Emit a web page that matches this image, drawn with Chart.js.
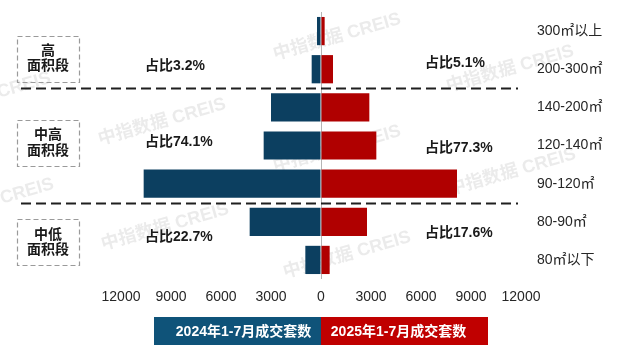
<!DOCTYPE html>
<html>
<head>
<meta charset="utf-8">
<script src="https://cdn.jsdelivr.net/npm/chart.js@4.4.1/dist/chart.umd.min.js"></script>
<style>
  html, body { margin: 0; padding: 0; background: #fff; }
</style>
</head>
<body>
<canvas id="areaChart" width="617" height="358"></canvas>
<script>
const categories = ['300㎡以上', '200-300㎡', '140-200㎡', '120-140㎡', '90-120㎡', '80-90㎡', '80㎡以下'];
const sales2024 = [240, 560, 3000, 3440, 10640, 4280, 940];
const sales2025 = [220, 720, 2900, 3320, 8160, 2760, 520];
const seriesNames = ['2024年1-7月成交套数', '2025年1-7月成交套数'];
const groupNames = [['高', '面积段'], ['中高', '面积段'], ['中低', '面积段']];
const share2024 = ['占比3.2%', '占比74.1%', '占比22.7%'];
const share2025 = ['占比5.1%', '占比77.3%', '占比17.6%'];
const xTicks = [-12000, -9000, -6000, -3000, 0, 3000, 6000, 9000, 12000];

const FONT = '"Liberation Sans", "Noto Sans CJK SC", sans-serif';
const BAR_BLUE = '#0C3F60';
const BAR_RED = '#B00000';
const LEGEND_BLUE = '#0F5379';
const LEGEND_RED = '#C00000';

// where the group decorations sit, in category units
const groupBreaks = [1.5, 4.5];
const boxAt = [0.72, 2.93, 5.54];
const leftShareAt = [0.91, 2.92, 5.4];
const rightShareAt = [0.84, 3.07, 5.3];
const watermarks = [[-75, 119], [275, 60], [448, 92], [100, 145], [275, 172], [450, 195], [-72, 225], [103, 250], [285, 278]];

const decorations = {
  id: 'decorations',
  beforeDatasetsDraw(chart) {
    const ctx = chart.ctx;
    ctx.save();
    ctx.font = 'bold 18px ' + FONT;
    ctx.fillStyle = 'rgba(190,190,190,0.3)';
    ctx.textBaseline = 'alphabetic';
    watermarks.forEach(([wx, wy]) => {
      ctx.save();
      ctx.translate(wx, wy);
      ctx.rotate(-0.28);
      ctx.fillText('中指数据 CREIS', 0, 0);
      ctx.restore();
    });
    ctx.restore();
  },
  afterDraw(chart) {
    const { ctx, chartArea, scales: { x, y } } = chart;
    ctx.save();

    // dashed separators between groups
    ctx.strokeStyle = '#1f1f1f';
    ctx.lineWidth = 2;
    ctx.setLineDash([10, 5]);
    groupBreaks.forEach(b => {
      const py = Math.round(y.getPixelForValue(b)) + 0.5;
      ctx.beginPath();
      ctx.moveTo(chartArea.left - 100, py);
      ctx.lineTo(chartArea.right - 3, py);
      ctx.stroke();
    });

    // group boxes
    ctx.setLineDash([5, 3]);
    ctx.strokeStyle = '#9a9a9a';
    ctx.lineWidth = 1.2;
    ctx.font = 'bold 14px ' + FONT;
    ctx.fillStyle = '#1a1a1a';
    ctx.textAlign = 'center';
    ctx.textBaseline = 'middle';
    groupNames.forEach((lines, i) => {
      const cy = y.getPixelForValue(boxAt[i]);
      const bx = chartArea.left - 104;
      ctx.strokeRect(bx + 0.5, Math.round(cy - 23) + 0.5, 62, 46);
      ctx.fillText(lines[0], bx + 31, cy - 7.5);
      ctx.fillText(lines[1], bx + 31, cy + 8);
    });

    // share labels
    ctx.setLineDash([]);
    ctx.textAlign = 'left';
    share2024.forEach((t, i) => ctx.fillText(t, chartArea.left + 24, y.getPixelForValue(leftShareAt[i])));
    share2025.forEach((t, i) => ctx.fillText(t, x.getPixelForValue(0) + 104, y.getPixelForValue(rightShareAt[i])));

    // legend blocks
    const zx = x.getPixelForValue(0);
    const ly = chartArea.bottom + 38;
    const lh = 28, lw = 167;
    ctx.fillStyle = LEGEND_BLUE;
    ctx.fillRect(zx - lw, ly, lw, lh);
    ctx.fillStyle = LEGEND_RED;
    ctx.fillRect(zx, ly, lw, lh);
    ctx.fillStyle = '#fff';
    ctx.textAlign = 'center';
    ctx.fillText(chart.data.datasets[0].label, zx - lw / 2 + 6, ly + lh / 2 + 1);
    ctx.fillText(chart.data.datasets[1].label, zx + lw / 2 - 6, ly + lh / 2 + 1);
    ctx.restore();
  }
};

new Chart(document.getElementById('areaChart').getContext('2d'), {
  type: 'bar',
  data: {
    labels: categories,
    datasets: [
      {
        label: seriesNames[0],
        data: sales2024.map(v => -v),
        backgroundColor: BAR_BLUE,
        barPercentage: 0.74,
        categoryPercentage: 1
      },
      {
        label: seriesNames[1],
        data: sales2025,
        backgroundColor: BAR_RED,
        barPercentage: 0.74,
        categoryPercentage: 1
      }
    ]
  },
  options: {
    indexAxis: 'y',
    responsive: false,
    animation: false,
    devicePixelRatio: 1,
    layout: { padding: { left: 121, top: 12, right: 0, bottom: 0 } },
    plugins: {
      legend: { display: false },
      tooltip: { enabled: false }
    },
    scales: {
      x: {
        stacked: true,
        min: -12000,
        max: 12000,
        z: 1,
        afterBuildTicks: scale => { scale.ticks = xTicks.map(v => ({ value: v })); },
        afterFit: scale => { scale.height = 79; },
        grid: {
          drawTicks: false,
          lineWidth: 1,
          color: c => (c.tick && c.tick.value === 0 ? '#b5b5b5' : 'rgba(0,0,0,0)')
        },
        border: { display: false },
        ticks: {
          padding: 10,
          maxRotation: 0,
          autoSkip: false,
          color: '#262626',
          font: { family: FONT, size: 14 },
          callback: v => Math.abs(v).toString()
        }
      },
      y: {
        stacked: true,
        position: 'right',
        afterFit: scale => { scale.width = 96; },
        grid: {
          display: true,
          drawOnChartArea: false,
          drawTicks: true,
          tickLength: 13,
          tickColor: 'rgba(0,0,0,0)'
        },
        border: { display: false },
        ticks: {
          padding: 3,
          color: '#262626',
          font: { family: FONT, size: 14 }
        }
      }
    }
  },
  plugins: [decorations]
});
</script>
</body>
</html>
